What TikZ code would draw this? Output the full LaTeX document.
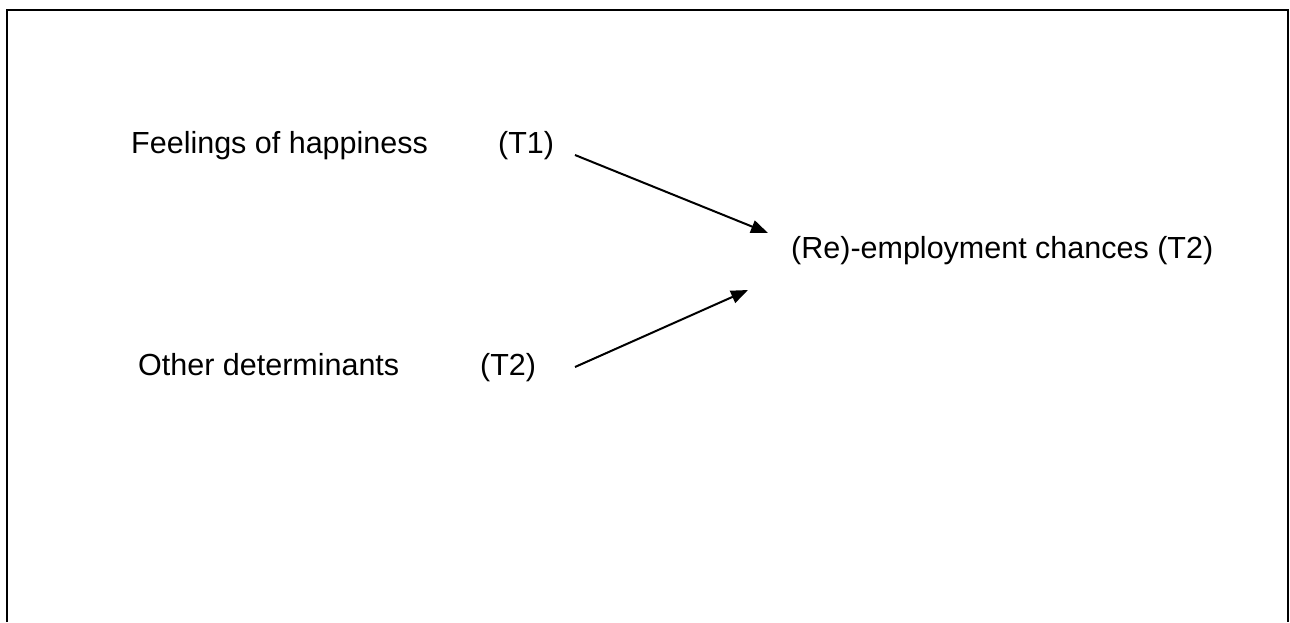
\documentclass[tikz,border=0pt]{standalone}
\usepackage{fontspec}
\setmainfont{Liberation Sans}
\usetikzlibrary{arrows.meta}
\tikzset{
  lbl/.style={anchor=base west, inner sep=0pt, font=\fontsize{30.5}{36}\selectfont},
  arr/.style={line width=2pt, -{Triangle[length=17pt,width=13pt]}},
  frame/.style={line width=2.2pt}
}
\begin{document}
\begin{tikzpicture}[x=1pt,y=-1pt]
\useasboundingbox (0,0) rectangle (1290,622);
\draw[frame] (7,622) -- (7,10) -- (1288,10) -- (1288,622);
\node[lbl] (fh) at (131,153) {Feelings of happiness};
\node[lbl] (t1) at (498,153) {(T1)};
\node[lbl] (od) at (138,375) {Other determinants};
\node[lbl] (t2) at (480,375) {(T2)};
\node[lbl] (re) at (791,258) {(Re)-employment chances (T2)};
\coordinate (s1) at (575,155);
\coordinate (e1) at (768,233);
\coordinate (s2) at (575,367);
\coordinate (e2) at (748,290);
\draw[arr] (s1) -- (e1);
\draw[arr] (s2) -- (e2);
\end{tikzpicture}
\end{document}
